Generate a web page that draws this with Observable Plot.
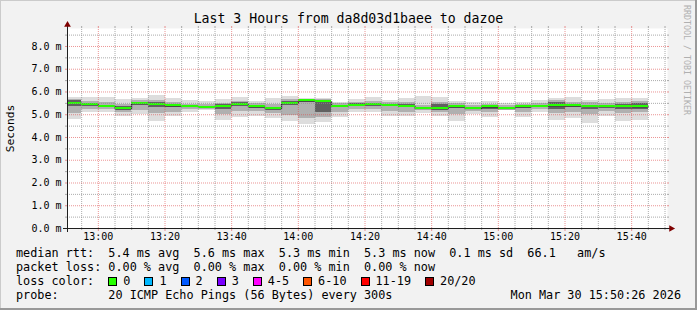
<!DOCTYPE html>
<html><head><meta charset="utf-8">
<script src="https://cdn.jsdelivr.net/npm/d3@7"></script>
<script src="https://cdn.jsdelivr.net/npm/@observablehq/plot@0.6"></script>
<style>
html,body{margin:0;padding:0;background:#f2f2f2;}
#chart{position:relative;width:697px;height:310px;background:#f2f2f2;overflow:hidden;
  box-shadow: inset -2px -2px 0 #999, inset 1px 1px 0 #cbcbcb;
  font-family:"DejaVu Sans Mono",monospace;color:#000;}
#title{height:26px;box-sizing:border-box;padding-top:12px;line-height:14px;text-align:center;font-size:13.2px;}
.row{height:14px;line-height:14px;font-size:11.8px;padding-left:16px;white-space:pre;}
.row4{display:flex;justify-content:space-between;padding-right:16px;}
.sw{display:inline-block;width:7px;height:7px;border:1px solid #000;vertical-align:-1px;margin-right:6px;}
.it{margin-right:14px;}
#wm{position:absolute;top:5px;left:682px;writing-mode:vertical-rl;font-size:8.3px;color:#b0b0b0;line-height:10px;}
#plot svg{display:block;}
</style>
</head><body>
<div id="chart">
  <div id="title">Last 3 Hours from da8d03d1baee to dazoe</div>
  <div id="plot"></div>
  <div class="row" id="r1"></div>
  <div class="row" id="r2"></div>
  <div class="row" id="r3"></div>
  <div class="row row4" id="r4"></div>
  <div id="wm">RRDTOOL / TOBI OETIKER</div>
</div>
<script>
// ---- data (ms), one value per 5-minute step ----
const median = [5.51,5.45,5.38,5.27,5.49,5.46,5.39,5.36,5.33,5.38,5.45,5.35,5.27,5.50,5.61,5.58,5.38,5.42,5.46,5.42,5.38,5.27,5.27,5.35,5.27,5.34,5.27,5.35,5.38,5.39,5.39,5.38,5.36,5.36,5.35];
const pingMax = [5.75,5.75,5.77,5.67,5.70,5.86,5.70,5.63,5.58,5.67,5.77,5.58,5.73,5.80,5.70,5.73,5.55,5.67,5.77,5.63,5.70,5.82,5.77,5.60,5.53,5.58,5.48,5.53,5.63,5.73,5.77,5.63,5.67,5.73,5.73];
const pingMin = [4.79,5.11,5.11,4.94,5.01,4.70,4.94,5.11,5.19,4.75,4.87,4.94,4.85,4.72,4.57,4.67,4.89,5.11,5.11,4.92,4.92,5.04,4.92,4.72,5.00,4.89,5.19,4.89,5.08,4.75,4.85,4.63,4.94,4.70,4.75];
const pingQ3 = [5.66,5.58,5.55,5.45,5.62,5.62,5.55,5.47,5.45,5.50,5.60,5.48,5.45,5.66,5.68,5.68,5.48,5.55,5.60,5.52,5.55,5.40,5.55,5.48,5.42,5.45,5.40,5.45,5.50,5.62,5.55,5.52,5.50,5.55,5.58];
const pingQ1 = [5.05,5.25,5.25,5.08,5.20,5.05,5.10,5.22,5.25,5.00,5.15,5.15,5.05,4.98,4.85,4.90,5.10,5.25,5.25,5.15,5.12,5.18,5.10,5.00,5.15,5.12,5.20,5.10,5.22,5.05,5.10,5.00,5.15,5.05,5.08];
const coreHi = [5.62,5.50,5.42,5.35,5.55,5.55,5.45,5.40,5.38,5.45,5.52,5.40,5.33,5.58,5.66,5.62,5.42,5.48,5.50,5.46,5.44,5.32,5.45,5.40,5.33,5.40,5.32,5.40,5.42,5.55,5.45,5.42,5.40,5.45,5.48];
const coreLo = [5.35,5.38,5.32,5.18,5.40,5.30,5.30,5.30,5.28,5.25,5.35,5.28,5.18,5.40,5.55,5.10,5.30,5.35,5.38,5.35,5.30,5.22,5.20,5.28,5.22,5.25,5.22,5.28,5.30,5.25,5.30,5.25,5.28,5.25,5.25];

const yMajor = [0,1,2,3,4,5,6,7,8];
const yTickLabels = ["0.0 m","1.0 m","2.0 m","3.0 m","4.0 m","5.0 m","6.0 m","7.0 m","8.0 m"];
const yMinor = [0.5,1.5,2.5,3.5,4.5,5.5,6.5,7.5,8.5];
const xTickLabels = ["13:00","13:20","13:40","14:00","14:20","14:40","15:00","15:20","15:40"];

const legendStats = "median rtt:  5.4 ms avg  5.6 ms max  5.3 ms min  5.3 ms now  0.1 ms sd  66.1   am/s";
const legendLoss = "packet loss: 0.00 % avg  0.00 % max  0.00 % min  0.00 % now";
const lossLabels = ["0","1","2","3","4-5","6-10","11-19","20/20"];
const lossColors = ["#26ff00","#00b8ff","#0059ff","#7a00ff","#ff00ff","#ff5500","#ff0000","#a00000"];
const probeText = "20 ICMP Echo Pings (56 Bytes) every 300s";
const dateText = "Mon Mar 30 15:50:26 2026";

// ---- time setup ----
const T = (h, m, s = 0) => new Date(Date.UTC(2026, 2, 30, h, m, s));
const xStart = T(12, 50, 45), xEnd = T(15, 50, 45);
const firstEnd = T(12, 55);
const stepMs = 300000;
const yMax = 8.79;
const pxT = (xEnd - xStart) / 600;   // ms of time per pixel
const pxY = yMax / 200;              // value per pixel
const tShift = (d, px) => new Date(+d + px * pxT);

const segs = median.map((m, i) => {
  const end = new Date(+firstEnd + i * stepMs);
  const start = new Date(Math.max(+xStart, +end - stepMs));
  return {start, end, median: m, min: pingMin[i], max: pingMax[i], q1: pingQ1[i], q3: pingQ3[i], c1: coreLo[i], c2: coreHi[i]};
});
const medPts = segs.flatMap(d => [{t: d.start, v: d.median}, {t: d.end, v: d.median}]);

const majorTimes = xTickLabels.map(s => { const [h, m] = s.split(":").map(Number); return T(h, m); });
const minorTimes = [];
for (let t = +T(12, 55); t < +xEnd; t += stepMs) if (!majorTimes.some(d => +d === t)) minorTimes.push(new Date(t));

const GRID = "#8f8f8f", MGRID = "#de4f4f";
const gridOpts = {stroke: GRID, strokeOpacity: 0.75, strokeDasharray: "1,1"};
const mgridOpts = {stroke: MGRID, strokeOpacity: 0.6, strokeDasharray: "1,1"};
const rectOpts = {x1: "start", x2: "end", shapeRendering: "crispEdges"};

const chart = Plot.plot({
  width: 697, height: 220,
  marginLeft: 67, marginRight: 30, marginTop: 2, marginBottom: 18,
  x: {type: "utc", domain: [xStart, xEnd]},
  y: {domain: [0, yMax]},
  style: {background: "transparent", overflow: "visible", fontFamily: "DejaVu Sans Mono", fontSize: "10px", color: "#000"},
  marks: [
    Plot.frame({fill: "white", stroke: null}),
    // smoke
    Plot.rect(segs, {...rectOpts, y1: "min", y2: "max", fill: "#dddddd"}),
    Plot.rect(segs, {...rectOpts, y1: "q1", y2: "q3", fill: "#b0b0b0"}),
    Plot.rect(segs, {...rectOpts, y1: "c1", y2: "c2", fill: "#606060"}),
    // median
    Plot.line(medPts, {x: "t", y: "v", stroke: "#202020", strokeWidth: 1}),
    Plot.rect(segs, {...rectOpts, y1: d => d.median - pxY, y2: d => d.median + pxY, fill: lossColors[0]}),
    // grid
    Plot.ruleY(yMinor, {x1: () => xStart, x2: () => xEnd, ...gridOpts}),
    Plot.ruleX(minorTimes, {y1: 0, y2: yMax, ...gridOpts}),
    Plot.ruleY(yMajor.slice(1), {x1: () => xStart, x2: () => xEnd, ...mgridOpts}),
    Plot.ruleX(majorTimes, {y1: 0, y2: yMax, ...mgridOpts}),
    // small ticks outside canvas
    Plot.ruleY(yMinor, {x1: () => tShift(xStart, -2), x2: () => xStart, stroke: GRID, strokeOpacity: 0.75}),
    Plot.ruleY(yMinor, {x1: () => xEnd, x2: () => tShift(xEnd, 2), stroke: GRID, strokeOpacity: 0.75}),
    Plot.ruleY(yMajor, {x1: () => tShift(xStart, -2), x2: () => xStart, stroke: MGRID, strokeOpacity: 0.6}),
    Plot.ruleY(yMajor, {x1: () => xEnd, x2: () => tShift(xEnd, 2), stroke: MGRID, strokeOpacity: 0.6}),
    Plot.ruleX(minorTimes, {y1: 0, y2: -2 * pxY, stroke: GRID, strokeOpacity: 0.75}),
    Plot.ruleX(minorTimes, {y1: yMax, y2: yMax + 2 * pxY, stroke: GRID, strokeOpacity: 0.75}),
    Plot.ruleX(majorTimes, {y1: 0, y2: -3 * pxY, stroke: MGRID, strokeOpacity: 0.6}),
    Plot.ruleX(majorTimes, {y1: yMax, y2: yMax + 2 * pxY, stroke: MGRID, strokeOpacity: 0.6}),
    // axes
    Plot.ruleY([0], {x1: () => tShift(xStart, -4), x2: () => tShift(xEnd, 4), stroke: "#1f1f1f"}),
    Plot.ruleX([xStart], {y1: -4 * pxY, y2: yMax + 4 * pxY, stroke: "#1f1f1f"}),
    Plot.dot([0], {x: () => tShift(xEnd, 3.7), y: 0, symbol: "triangle", r: 2.5, rotate: 90, fill: "#7f0000", stroke: null}),
    Plot.dot([0], {x: () => xStart, y: () => yMax + 3.7 * pxY, symbol: "triangle", r: 2.5, fill: "#7f0000", stroke: null}),
    Plot.axisY(yMajor, {tickSize: 0, tickPadding: 6, tickFormat: d => yTickLabels[yMajor.indexOf(d)], label: null, fontSize: 10}),
    Plot.axisX(majorTimes, {tickSize: 0, tickPadding: 4, tickFormat: d => xTickLabels[majorTimes.findIndex(t => +t === +d)], label: null, fontSize: 10}),
    Plot.text(["Seconds"], {frameAnchor: "left", dx: -57, rotate: -90, textAnchor: "middle", fontSize: 11.3, fill: "#000"})
  ]
});
document.getElementById("plot").appendChild(chart);

// ---- legend ----
document.getElementById("r1").textContent = legendStats;
document.getElementById("r2").textContent = legendLoss;
const r3 = document.getElementById("r3");
r3.appendChild(document.createTextNode("loss color:  "));
lossLabels.forEach((lab, i) => {
  const sw = document.createElement("span");
  sw.className = "sw"; sw.style.background = lossColors[i];
  const t = document.createElement("span");
  t.className = "it"; t.textContent = lab;
  r3.appendChild(sw); r3.appendChild(t);
});
const r4 = document.getElementById("r4");
const p1 = document.createElement("span"); p1.textContent = "probe:       " + probeText;
const p2 = document.createElement("span"); p2.textContent = dateText;
r4.appendChild(p1); r4.appendChild(p2);
</script>
</body></html>
